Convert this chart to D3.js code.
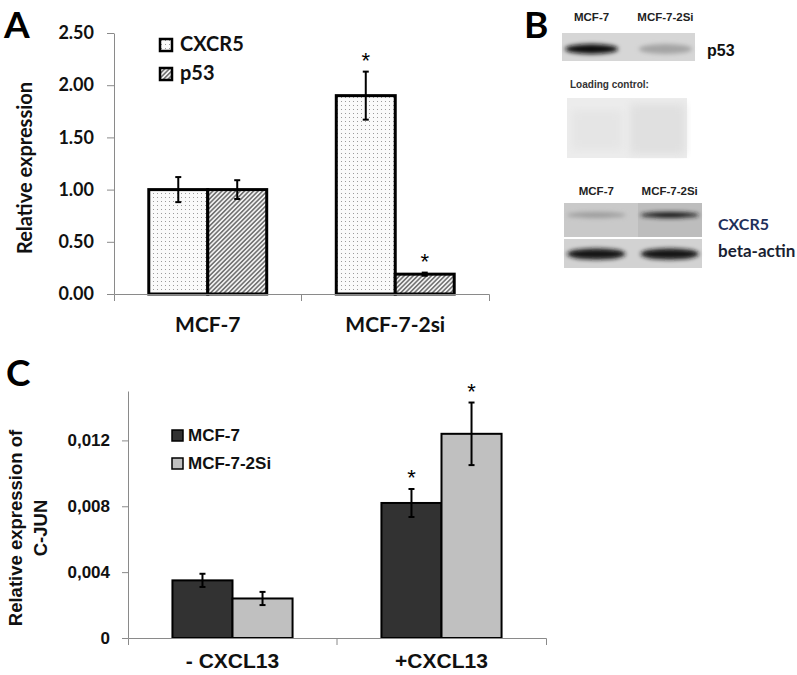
<!DOCTYPE html>
<html>
<head>
<meta charset="utf-8">
<script src="https://cdn.jsdelivr.net/npm/d3@7"></script>
<style>
  body { margin: 0; background: #fff; }
  svg { display: block; }
</style>
</head>
<body>
<script>
// Panel A data
const groupsA = ['MCF-7', 'MCF-7-2si'];
const seriesA = ['CXCR5', 'p53'];
const cxcr5Vals = [1.00, 1.90];
const cxcr5Err = [0.12, 0.23];
const cxcr5Sig = [false, true];
const p53Vals = [1.00, 0.19];
const p53Err = [0.09, 0.015];
const p53Sig = [false, true];
const ticksA = [0, 0.5, 1, 1.5, 2, 2.5];

// Panel B blot data (band intensity 0..1)
const blotLanes = ['MCF-7', 'MCF-7-2Si'];
const p53Band = [0.97, 0.22];
const cxcr5Band = [0.25, 0.9];
const actinBand = [0.95, 0.95];

// Panel C data
const groupsC = ['- CXCL13', '+CXCL13'];
const seriesC = ['MCF-7', 'MCF-7-2Si'];
const mcf7Vals = [0.0035, 0.0082];
const mcf7Err = [0.0004, 0.00085];
const mcf7Sig = [false, true];
const si2Vals = [0.0024, 0.0124];
const si2Err = [0.0004, 0.0019];
const si2Sig = [false, true];
const ticksC = [0, 0.004, 0.008, 0.012];

const fontA = 'Lato, "Open Sans", sans-serif';
const fontC = '"Liberation Sans", Arial, sans-serif';

const svg = d3.select('body')
  .append('svg')
  .attr('width', 797)
  .attr('height', 675);

const defs = svg.append('defs');

// dotted fill for CXCR5
const dots = defs.append('pattern')
  .attr('id', 'dots')
  .attr('patternUnits', 'userSpaceOnUse')
  .attr('width', 4)
  .attr('height', 4);
dots.append('rect').attr('width', 4).attr('height', 4).attr('fill', '#fafafa');
dots.append('rect').attr('x', 1).attr('y', 1).attr('width', 1).attr('height', 1).attr('fill', '#9a9a9a');

// hatch fill for p53
const hatch = defs.append('pattern')
  .attr('id', 'hatch')
  .attr('patternUnits', 'userSpaceOnUse')
  .attr('width', 3.2)
  .attr('height', 3.2)
  .attr('patternTransform', 'rotate(45)');
hatch.append('rect').attr('width', 3.2).attr('height', 3.2).attr('fill', '#f2f2f2');
hatch.append('line')
  .attr('x1', 0.8).attr('y1', 0).attr('x2', 0.8).attr('y2', 3.2)
  .attr('stroke', '#3a3a3a').attr('stroke-width', 1.1);

const blur = defs.append('filter').attr('id', 'blur').attr('x', '-30%').attr('y', '-80%').attr('width', '160%').attr('height', '260%');
blur.append('feGaussianBlur').attr('stdDeviation', 2.2);
const blurSoft = defs.append('filter').attr('id', 'blurSoft');
blurSoft.append('feGaussianBlur').attr('stdDeviation', 4);

const fillA = { CXCR5: 'url(#dots)', p53: 'url(#hatch)' };
const valsA = { CXCR5: cxcr5Vals, p53: p53Vals };
const errA = { CXCR5: cxcr5Err, p53: p53Err };
const sigA = { CXCR5: cxcr5Sig, p53: p53Sig };

// ---------------- Panel A ----------------
const yA = d3.scaleLinear().domain([0, 2.5]).range([294, 33]);
const xA = d3.scaleBand().domain(groupsA).range([114, 489]);
const xA1 = d3.scaleBand().domain(seriesA).range([0, xA.bandwidth()]).paddingOuter(0.59);

const rowsA = [];
groupsA.forEach((g, i) => {
  seriesA.forEach((s) => {
    rowsA.push({ g, s, v: valsA[s][i], e: errA[s][i], sig: sigA[s][i] });
  });
});

const gA = svg.append('g');

gA.selectAll('rect.bar')
  .data(rowsA)
  .enter()
  .append('rect')
  .attr('class', 'bar')
  .attr('x', (d) => xA(d.g) + xA1(d.s))
  .attr('y', (d) => yA(d.v))
  .attr('width', xA1.bandwidth())
  .attr('height', (d) => yA(0) - yA(d.v))
  .attr('fill', (d) => fillA[d.s])
  .attr('stroke', '#000')
  .attr('stroke-width', 3);

// error bars
const errGA = gA.selectAll('g.err')
  .data(rowsA)
  .enter()
  .append('g')
  .attr('class', 'err')
  .attr('transform', (d) => `translate(${xA(d.g) + xA1(d.s) + xA1.bandwidth() / 2},0)`);
errGA.append('line')
  .attr('y1', (d) => yA(d.v + d.e)).attr('y2', (d) => yA(d.v - d.e))
  .attr('stroke', '#000').attr('stroke-width', 2);
errGA.append('line')
  .attr('x1', -3).attr('x2', 3)
  .attr('y1', (d) => yA(d.v + d.e)).attr('y2', (d) => yA(d.v + d.e))
  .attr('stroke', '#000').attr('stroke-width', 2);
errGA.append('line')
  .attr('x1', -3).attr('x2', 3)
  .attr('y1', (d) => yA(d.v - d.e)).attr('y2', (d) => yA(d.v - d.e))
  .attr('stroke', '#000').attr('stroke-width', 2);

gA.selectAll('text.star')
  .data(rowsA.filter((d) => d.sig))
  .enter()
  .append('text')
  .attr('class', 'star')
  .attr('x', (d) => xA(d.g) + xA1(d.s) + xA1.bandwidth() / 2)
  .attr('y', (d) => yA(d.v + d.e) - 4)
  .attr('text-anchor', 'middle')
  .attr('font-family', fontC)
  .attr('font-size', 22)
  .text('*');

// y axis A
const yAxisA = gA.append('g')
  .attr('transform', 'translate(114,0)')
  .call(d3.axisLeft(yA).tickValues(ticksA).tickFormat(d3.format('.2f'))
    .tickSizeInner(7).tickSizeOuter(0).tickPadding(13));
yAxisA.attr('font-family', fontA).attr('font-size', 18).attr('font-weight', 'bold');
yAxisA.selectAll('path, line').attr('stroke', '#8a8a8a');
yAxisA.selectAll('text').attr('fill', '#111');

// x axis A
const xAxisA = gA.append('g')
  .attr('transform', 'translate(0,294)')
  .call(d3.axisBottom(xA).tickSizeInner(0).tickSizeOuter(7).tickPadding(23));
xAxisA.attr('font-family', fontA).attr('font-size', 21).attr('font-weight', 'bold');
xAxisA.selectAll('path, line').attr('stroke', '#8a8a8a');
xAxisA.selectAll('text').attr('fill', '#111');
xAxisA.append('line')
  .attr('x1', xA(groupsA[1])).attr('x2', xA(groupsA[1]))
  .attr('y1', 0).attr('y2', 7)
  .attr('stroke', '#8a8a8a');

gA.append('text')
  .attr('transform', 'translate(32,168) rotate(-90)')
  .attr('text-anchor', 'middle')
  .attr('font-family', fontA)
  .attr('font-size', 20)
  .attr('font-weight', 'bold')
  .attr('fill', '#111')
  .text('Relative expression');

// legend A
const legA = gA.selectAll('g.leg')
  .data(seriesA)
  .enter()
  .append('g')
  .attr('class', 'leg')
  .attr('transform', (d, i) => `translate(160,${39 + i * 29})`);
legA.append('rect')
  .attr('width', 12).attr('height', 12)
  .attr('fill', (d) => fillA[d])
  .attr('stroke', '#000').attr('stroke-width', 2.5);
legA.append('text')
  .attr('x', 20).attr('y', 12)
  .attr('font-family', fontA).attr('font-size', 20).attr('font-weight', 'bold')
  .attr('fill', '#111')
  .text((d) => d);

gA.append('text')
  .attr('x', 4).attr('y', 38)
  .attr('font-family', fontA).attr('font-size', 37).attr('font-weight', 'bold')
  .text('A');

// ---------------- Panel B ----------------
const gB = svg.append('g');
gB.append('text')
  .attr('x', 524).attr('y', 38)
  .attr('font-family', fontA).attr('font-size', 37).attr('font-weight', 'bold')
  .text('B');

const shade = d3.scaleLinear().domain([0, 1]).range(['#cfcfcf', '#0a0a0a']);
const laneTop = d3.scaleBand().domain(blotLanes).range([562, 695]).paddingInner(0.2);
const laneBot = d3.scaleBand().domain(blotLanes).range([564, 702]).paddingInner(0.12);

function laneLabels(scale, y) {
  gB.selectAll(null)
    .data(blotLanes)
    .enter()
    .append('text')
    .attr('x', (d) => scale(d) + scale.bandwidth() / 2)
    .attr('y', y)
    .attr('text-anchor', 'middle')
    .attr('font-family', fontC).attr('font-size', 11.5).attr('font-weight', 'bold')
    .attr('fill', '#222')
    .text((d) => d);
}

function blot(scale, y, h, bg, band, bandH, bandY) {
  gB.append('rect')
    .attr('x', scale.range()[0]).attr('y', y)
    .attr('width', scale.range()[1] - scale.range()[0]).attr('height', h)
    .attr('fill', bg);
  gB.selectAll(null)
    .data(blotLanes)
    .enter()
    .append('ellipse')
    .attr('cx', (d) => scale(d) + scale.bandwidth() / 2)
    .attr('cy', y + bandY)
    .attr('rx', scale.bandwidth() / 2 - 3)
    .attr('ry', bandH / 2)
    .attr('fill', (d, i) => shade(band[i]))
    .attr('filter', 'url(#blur)');
}

laneLabels(laneTop, 21);
blot(laneTop, 33, 28, '#d6d6d6', p53Band, 10, 16);

gB.append('text')
  .attr('x', 707).attr('y', 56)
  .attr('font-family', fontC).attr('font-size', 16).attr('font-weight', 'bold')
  .attr('fill', '#111')
  .text('p53');

gB.append('text')
  .attr('x', 570).attr('y', 88)
  .attr('font-family', fontC).attr('font-size', 10).attr('font-weight', 'bold')
  .attr('fill', '#333')
  .text('Loading control:');

// loading control stain
gB.append('rect')
  .attr('x', 567).attr('y', 98).attr('width', 120).attr('height', 60)
  .attr('fill', '#ececec');
gB.append('rect')
  .attr('x', 630).attr('y', 104).attr('width', 55).attr('height', 50)
  .attr('fill', '#e0e0e0').attr('filter', 'url(#blurSoft)');
gB.append('rect')
  .attr('x', 572).attr('y', 110).attr('width', 50).attr('height', 40)
  .attr('fill', '#e5e5e5').attr('filter', 'url(#blurSoft)');

laneLabels(laneBot, 195);
blot(laneBot, 203, 34, '#c9c9c9', cxcr5Band, 6, 12);
gB.append('rect')
  .attr('x', 638).attr('y', 203).attr('width', 64).attr('height', 34)
  .attr('fill', '#000').attr('opacity', 0.06);
blot(laneBot, 239, 29, '#d2d2d2', actinBand, 11, 15);

gB.append('text')
  .attr('x', 718).attr('y', 230)
  .attr('font-family', fontA).attr('font-size', 16).attr('font-weight', 'bold')
  .attr('fill', '#1f2f5a')
  .text('CXCR5');
gB.append('text')
  .attr('x', 718).attr('y', 257)
  .attr('font-family', fontA).attr('font-size', 17).attr('font-weight', 'bold')
  .attr('fill', '#1a1f33')
  .text('beta-actin');

// ---------------- Panel C ----------------
const fillC = { 'MCF-7': '#323232', 'MCF-7-2Si': '#c0c0c0' };
const valsC = { 'MCF-7': mcf7Vals, 'MCF-7-2Si': si2Vals };
const errC = { 'MCF-7': mcf7Err, 'MCF-7-2Si': si2Err };
const sigC = { 'MCF-7': mcf7Sig, 'MCF-7-2Si': si2Sig };

const yC = d3.scaleLinear().domain([0, 0.015]).range([638, 391]);
const xC = d3.scaleBand().domain(groupsC).range([128, 546]);
const xC1 = d3.scaleBand().domain(seriesC).range([0, xC.bandwidth()]).paddingOuter(0.74);

const rowsC = [];
groupsC.forEach((g, i) => {
  seriesC.forEach((s) => {
    rowsC.push({ g, s, v: valsC[s][i], e: errC[s][i], sig: sigC[s][i] });
  });
});

const gC = svg.append('g');

gC.selectAll('rect.bar')
  .data(rowsC)
  .enter()
  .append('rect')
  .attr('class', 'bar')
  .attr('x', (d) => xC(d.g) + xC1(d.s))
  .attr('y', (d) => yC(d.v))
  .attr('width', xC1.bandwidth())
  .attr('height', (d) => yC(0) - yC(d.v))
  .attr('fill', (d) => fillC[d.s])
  .attr('stroke', '#000')
  .attr('stroke-width', 2);

const errGC = gC.selectAll('g.err')
  .data(rowsC)
  .enter()
  .append('g')
  .attr('class', 'err')
  .attr('transform', (d) => `translate(${xC(d.g) + xC1(d.s) + xC1.bandwidth() / 2},0)`);
errGC.append('line')
  .attr('y1', (d) => yC(d.v + d.e)).attr('y2', (d) => yC(d.v - d.e))
  .attr('stroke', '#000').attr('stroke-width', 2);
errGC.append('line')
  .attr('x1', -3).attr('x2', 3)
  .attr('y1', (d) => yC(d.v + d.e)).attr('y2', (d) => yC(d.v + d.e))
  .attr('stroke', '#000').attr('stroke-width', 2);
errGC.append('line')
  .attr('x1', -3).attr('x2', 3)
  .attr('y1', (d) => yC(d.v - d.e)).attr('y2', (d) => yC(d.v - d.e))
  .attr('stroke', '#000').attr('stroke-width', 2);

gC.selectAll('text.star')
  .data(rowsC.filter((d) => d.sig))
  .enter()
  .append('text')
  .attr('class', 'star')
  .attr('x', (d) => xC(d.g) + xC1(d.s) + xC1.bandwidth() / 2)
  .attr('y', (d) => yC(d.v + d.e) - 4)
  .attr('text-anchor', 'middle')
  .attr('font-family', fontC)
  .attr('font-size', 22)
  .text('*');

const fmtC = (d) => (d === 0 ? '0' : d3.format('.3f')(d).replace('.', ','));
const yAxisC = gC.append('g')
  .attr('transform', 'translate(128,0)')
  .call(d3.axisLeft(yC).tickValues(ticksC).tickFormat(fmtC)
    .tickSizeInner(6).tickSizeOuter(0).tickPadding(12));
yAxisC.attr('font-family', fontC).attr('font-size', 17).attr('font-weight', 'bold');
yAxisC.selectAll('path, line').attr('stroke', '#8a8a8a');
yAxisC.selectAll('text').attr('fill', '#111');

const xAxisC = gC.append('g')
  .attr('transform', 'translate(0,638)')
  .call(d3.axisBottom(xC).tickSizeInner(0).tickSizeOuter(7).tickPadding(15));
xAxisC.attr('font-family', fontC).attr('font-size', 21).attr('font-weight', 'bold');
xAxisC.selectAll('path, line').attr('stroke', '#8a8a8a');
xAxisC.selectAll('text').attr('fill', '#111');
xAxisC.append('line')
  .attr('x1', xC(groupsC[1])).attr('x2', xC(groupsC[1]))
  .attr('y1', 0).attr('y2', 7)
  .attr('stroke', '#8a8a8a');

const titleC = gC.append('text')
  .attr('transform', 'translate(0,528) rotate(-90)')
  .attr('text-anchor', 'middle')
  .attr('font-family', fontC)
  .attr('font-size', 18.5)
  .attr('font-weight', 'bold')
  .attr('fill', '#111');
titleC.append('tspan').attr('x', 0).attr('y', 22).text('Relative expression of');
titleC.append('tspan').attr('x', 0).attr('y', 47).text('C-JUN');

const legC = gC.selectAll('g.leg')
  .data(seriesC)
  .enter()
  .append('g')
  .attr('class', 'leg')
  .attr('transform', (d, i) => `translate(172,${430 + i * 28})`);
legC.append('rect')
  .attr('width', 11).attr('height', 11)
  .attr('fill', (d) => fillC[d])
  .attr('stroke', '#000').attr('stroke-width', 1.5);
legC.append('text')
  .attr('x', 16).attr('y', 11)
  .attr('font-family', fontC).attr('font-size', 17).attr('font-weight', 'bold')
  .attr('fill', '#111')
  .text((d) => d);

gC.append('text')
  .attr('x', 6).attr('y', 386)
  .attr('font-family', fontA).attr('font-size', 37).attr('font-weight', 'bold')
  .text('C');
</script>
</body>
</html>
